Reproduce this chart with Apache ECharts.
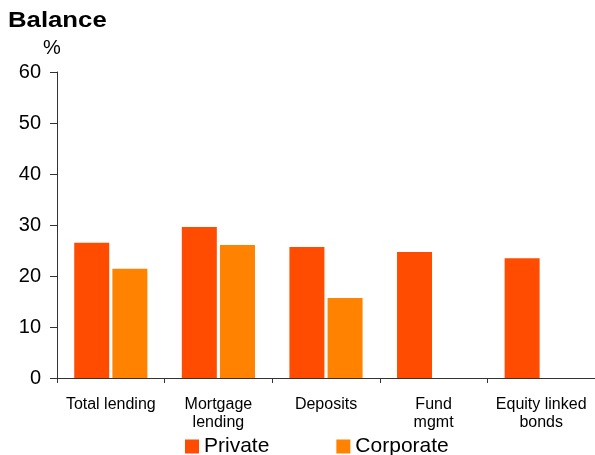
<!DOCTYPE html>
<html><head><meta charset="utf-8">
<script src="https://cdn.jsdelivr.net/npm/echarts@6/dist/echarts.min.js"></script>
<style>html,body{margin:0;padding:0;background:#fff}#c{width:595px;height:455px}</style>
</head><body><div id="c"></div>
<script>
var categories = ['Total lending', 'Mortgage\nlending', 'Deposits', 'Fund\nmgmt', 'Equity linked\nbonds'];
var privateVals = [26.5, 29.6, 25.7, 24.7, 23.5];
var corporateVals = [21.4, 26.1, 15.7, null, null];
var yTicks = {min: 0, max: 60, interval: 10};

var FONT = '"Liberation Sans", Arial, sans-serif';
var chart = echarts.init(document.getElementById('c'), null, {renderer: 'canvas'});
chart.setOption({
  backgroundColor: '#fff',
  animation: false,
  graphic: [
    {type: 'text', x: 8, y: 10, scaleX: 1.17, style: {text: 'Balance', font: 'bold 22px ' + FONT, fill: '#000'}},
    {type: 'text', left: 43, top: 38, style: {text: '%', font: '20px ' + FONT, fill: '#000'}}
  ],
  grid: {left: 57, top: 72, width: 540, height: 306, containLabel: false},
  legend: {
    left: 180, top: 431, itemWidth: 14, itemHeight: 14, itemGap: 67, icon: 'rect',
    textStyle: {fontFamily: FONT, fontSize: 21, color: '#000'},
    data: ['Private', 'Corporate']
  },
  xAxis: {
    type: 'category', data: categories,
    axisLine: {lineStyle: {color: '#333', width: 1}},
    axisTick: {show: true, length: 5, lineStyle: {color: '#333'}},
    axisLabel: {interval: 0, fontFamily: FONT, fontSize: 16, color: '#000', margin: 18, lineHeight: 18}
  },
  yAxis: {
    type: 'value', min: yTicks.min, max: yTicks.max, interval: yTicks.interval,
    axisLine: {show: true, lineStyle: {color: '#333', width: 1}},
    axisTick: {show: true, length: 7, lineStyle: {color: '#333'}},
    splitLine: {show: false},
    axisLabel: {fontFamily: FONT, fontSize: 20, color: '#000', margin: 16}
  },
  series: [
    {name: 'Private', type: 'bar', data: privateVals, barWidth: 35, barGap: '9%', itemStyle: {color: '#FF4C00'}},
    {name: 'Corporate', type: 'bar', data: corporateVals, barWidth: 35, itemStyle: {color: '#FF8200'}}
  ]
});
</script></body></html>
